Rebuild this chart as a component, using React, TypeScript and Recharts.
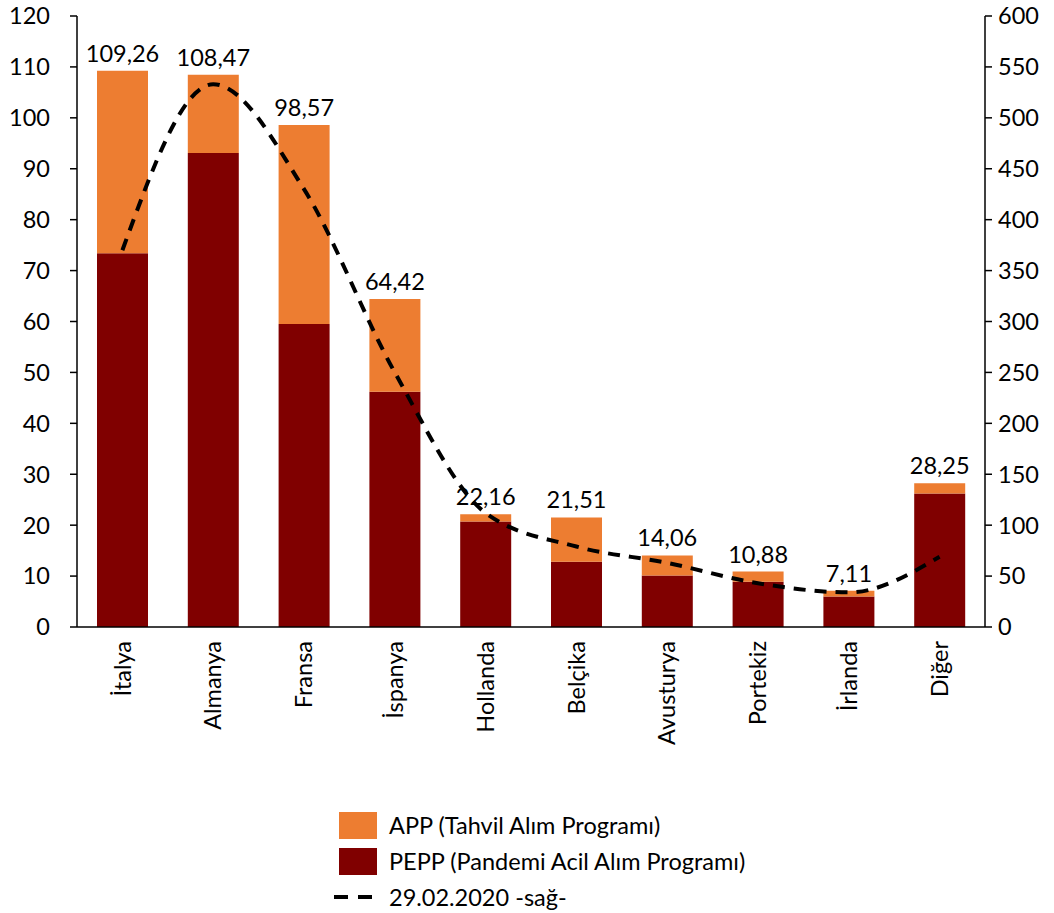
import { ComposedChart, Bar, Line, XAxis, YAxis, Legend, LabelList } from "recharts";

const countries = ["İtalya", "Almanya", "Fransa", "İspanya", "Hollanda", "Belçika", "Avusturya", "Portekiz", "İrlanda", "Diğer"];
const pepp = [73.4, 93.1, 59.5, 46.2, 20.7, 12.8, 10.1, 8.9, 6.0, 26.2];
const app = [35.86, 15.37, 39.07, 18.22, 1.46, 8.71, 3.96, 1.98, 1.11, 2.05];
const totals = [109.26, 108.47, 98.57, 64.42, 22.16, 21.51, 14.06, 10.88, 7.11, 28.25];
const feb2020 = [370, 533, 430, 250, 112, 79, 63, 43, 34, 69];

const leftTicks = [0, 10, 20, 30, 40, 50, 60, 70, 80, 90, 100, 110, 120];
const rightTicks = [0, 50, 100, 150, 200, 250, 300, 350, 400, 450, 500, 550, 600];

const data = countries.map((name, i) => ({
  name,
  pepp: pepp[i],
  app: app[i],
  total: totals[i],
  line: feb2020[i],
}));

const FONT = "Lato, 'Noto Sans', sans-serif";
const FS = 23.5;

const fmt = (v: any) => Number(v).toFixed(2).replace(".", ",");

const CatTick = (props: any) => {
  const { x, y, payload } = props;
  const ty = y + 6;
  return (
    <text
      x={x}
      y={ty}
      transform={`rotate(-90 ${x} ${ty})`}
      textAnchor="end"
      dy="0.35em"
      fontSize={FS}
      fill="#000"
      fontFamily={FONT}
    >
      {payload.value}
    </text>
  );
};

const LegendBox = () => (
  <div style={{ paddingLeft: 315, paddingTop: 4, fontFamily: FONT, fontSize: FS, color: "#000" }}>
    <div style={{ height: 36, display: "flex", alignItems: "center" }}>
      <span style={{ width: 38, height: 27, background: "#ED7D31", marginLeft: 7, marginRight: 12, display: "inline-block" }} />
      APP (Tahvil Alım Programı)
    </div>
    <div style={{ height: 36, display: "flex", alignItems: "center" }}>
      <span style={{ width: 38, height: 27, background: "#800000", marginLeft: 7, marginRight: 12, display: "inline-block" }} />
      PEPP (Pandemi Acil Alım Programı)
    </div>
    <div style={{ height: 36, display: "flex", alignItems: "center" }}>
      <svg width={50} height={10} style={{ marginRight: 7 }}>
        <line x1={2} y1={5} x2={48} y2={5} stroke="#000" strokeWidth={4} strokeDasharray="14 10" />
      </svg>
      29.02.2020 -sağ-
    </div>
  </div>
);

export default function App() {
  return (
    <div style={{ position: "absolute", left: 0, top: 0, fontFamily: FONT }}>
      <ComposedChart
        width={1054}
        height={913}
        data={data}
        margin={{ top: 16, right: 9, left: 17, bottom: 0 }}
        barSize={51}
      >
        <XAxis
          dataKey="name"
          height={176}
          interval={0}
          tickLine={false}
          axisLine={{ stroke: "#000", strokeWidth: 1.5 }}
          tick={<CatTick />}
        />
        <YAxis
          yAxisId="left"
          width={60}
          domain={[0, 120]}
          ticks={leftTicks}
          interval={0}
          tickSize={7}
          tickMargin={20}
          axisLine={{ stroke: "#000", strokeWidth: 1.5 }}
          tickLine={{ stroke: "#000", strokeWidth: 1.5 }}
          tick={{ fontSize: FS, fill: "#000", fontFamily: FONT }}
        />
        <YAxis
          yAxisId="right"
          orientation="right"
          width={60}
          domain={[0, 600]}
          ticks={rightTicks}
          interval={0}
          tickSize={7}
          tickMargin={6}
          axisLine={{ stroke: "#000", strokeWidth: 1.5 }}
          tickLine={{ stroke: "#000", strokeWidth: 1.5 }}
          tick={{ fontSize: FS, fill: "#000", fontFamily: FONT }}
        />
        <Legend verticalAlign="bottom" height={110} content={<LegendBox />} />
        <Bar yAxisId="left" dataKey="pepp" stackId="a" fill="#800000" isAnimationActive={false} />
        <Bar yAxisId="left" dataKey="app" stackId="a" fill="#ED7D31" isAnimationActive={false}>
          <LabelList
            dataKey="total"
            position="top"
            offset={9}
            formatter={fmt}
            fontSize={FS}
            fill="#000"
            fontFamily={FONT}
          />
        </Bar>
        <Line
          yAxisId="right"
          dataKey="line"
          type="monotone"
          stroke="#000"
          strokeWidth={4}
          strokeDasharray="12 9"
          dot={false}
          activeDot={false}
          isAnimationActive={false}
        />
      </ComposedChart>
    </div>
  );
}
